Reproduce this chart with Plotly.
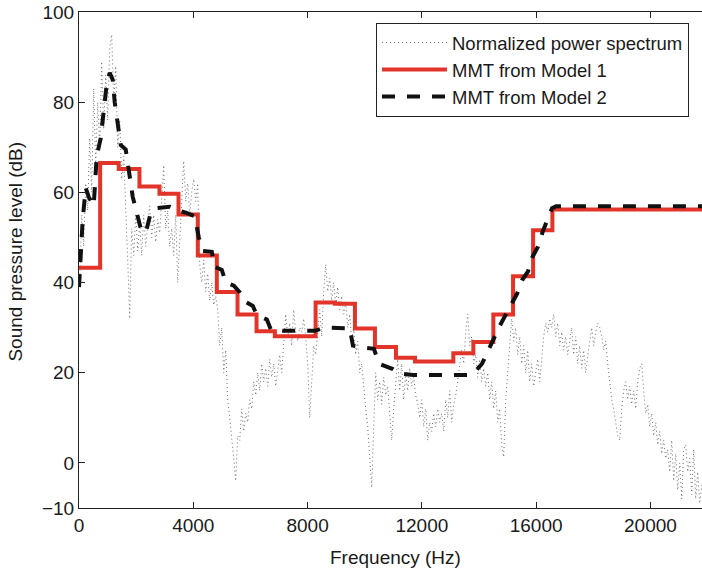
import numpy as np
import plotly.graph_objects as go

# ---------------- data ----------------
# Normalized power spectrum (dB), sampled on a uniform 70 Hz grid starting at 25 Hz
spectrum_start_hz = 25
spectrum_step_hz = 70
spectrum_db = [
    40, 55, 48, 62, 56, 72, 60, 83, 66, 80, 70, 89, 74, 86, 76, 92, 95, 80, 88, 70,
    76, 63, 68, 58, 45, 32, 52, 46, 55, 47, 53, 46, 55, 48, 52, 57, 50, 55, 49, 54,
    51, 58, 66, 52, 56, 48, 52, 46, 55, 40, 50, 57, 67, 58, 62, 55, 60, 63, 58, 62,
    44, 40, 45, 38, 42, 36, 40, 35, 37, 34, 26, 30, 20, 25, 14, 10, 6, 1, -4, 6,
    5, 12, 7, 11, 9, 14, 12, 18, 15, 20, 16, 22, 18, 21, 17, 23, 19, 22, 17, 21,
    24, 20, 26, 33, 28, 31, 26, 34, 29, 27, 30, 29, 32, 28, 22, 10, 18, 26, 24, 30,
    34, 28, 38, 44, 38, 41, 36, 40, 35, 39, 34, 37, 33, 36, 30, 33, 27, 30, 24, 27,
    20, 22, 16, 12, 8, 2, -5.5, 8, 20, 14, 18, 13, 19, 15, 17, 11, 5, 12, 18, 23,
    16, 22, 14, 20, 16, 21, 17, 19, 15, 13, 10, 14, 8, 12, 5, 9, 7, 11, 8, 12,
    9, 11, 7, 14, 10, 16, 9, 13, 15, 18, 21, 25, 22, 29, 33, 26, 28, 22, 24, 19,
    23, 18, 21, 17, 20, 14, 18, 12, 16, 9, 12, 4, 1.3, 14, 20, 26, 32, 27, 30, 24,
    28, 22, 26, 20, 25, 18, 22, 17, 20, 23, 18, 24, 28, 31, 29, 32, 30, 33, 28, 31,
    26, 29, 25, 28, 24, 27, 30, 24, 28, 22, 26, 21, 25, 20, 24, 27, 30, 26, 29, 31,
    30, 28, 25, 27, 22, 18, 14, 12, 9, 6, 5, 12, 16, 18, 14, 17, 13, 16, 12, 18,
    21, 22, 16, 11, 13, 8, 11, 6, 9, 4, 7, 2, 5, 1, 3, -2, 5, -4, 2, -6,
    0, -8, 3, 4, -2, 1, -7, 3, -8, -2, -9, -5, -3, -8,
]
spectrum_hz = spectrum_start_hz + spectrum_step_hz * np.arange(len(spectrum_db))

# MMT from Model 1: step edges (Hz) and levels (dB)
model1_hz = [0, 740, 1390, 2116, 2816, 3482, 4158, 4824, 5549, 6214, 6855,
             8281, 8957, 9658, 10358, 11094, 11759, 13101, 13802, 14502,
             15192, 15893, 16569, 22050]
model1_db = [43.3, 66.5, 65.2, 61.3, 59.7, 55.1, 46.0, 37.9, 32.9, 29.2, 28.1,
             35.6, 35.3, 29.8, 25.7, 23.3, 22.5, 24.3, 26.8, 32.9,
             41.4, 51.6, 56.2, 56.2]

# MMT from Model 2: breakpoints (Hz) and levels (dB)
model2_hz = [0, 130, 235, 340, 515, 620, 760, 865, 970, 1075, 1180, 1250, 1356,
             1461, 1636, 1741, 1881, 2021, 2161, 2336, 2511, 2722, 3177, 3457,
             3737, 4053, 4193, 4333, 4648, 4753, 4998, 5138, 5419, 5629, 5804,
             6084, 6224, 6575, 6715, 7135, 8256, 8501, 8711, 9482, 9587, 9902,
             10323, 10498, 10988, 11233, 11689, 13686, 13896, 14106, 14316,
             14561, 14736, 14946, 15121, 15331, 15506, 15717, 15857, 16067,
             16242, 16417, 16557, 16697, 22050]
model2_db = [39, 54, 61, 59, 57, 68, 72, 79, 84, 86.5, 85, 80, 75,
             70.5, 69.5, 65, 59, 55.5, 52, 51, 55.5, 56.5, 56.8, 56,
             55.5, 54.7, 50, 47, 46.8, 43.5, 42.8, 40, 39.3, 37.8, 35.8,
             34.8, 32.8, 31.8, 29.6, 29.3, 29.3, 29.8, 30, 29.8, 26, 25.6,
             25.3, 22, 20.8, 19.8, 19.5, 19.5, 20.5, 22, 25,
             28, 30.5, 33, 35, 37.5, 40.5, 42.5, 45.5, 48,
             51.5, 54, 56.5, 56.9, 56.9]

x_ticks = [0, 4000, 8000, 12000, 16000, 20000]
y_ticks = [-10, 0, 20, 40, 60, 80, 100]
x_range = [0, 22050]
y_range = [-10, 100]
x_title = "Frequency (Hz)"
y_title = "Sound pressure level (dB)"

# ---------------- figure ----------------
FONT = "Liberation Sans, Arial, Helvetica, sans-serif"
TXT = "#1a1a1a"

fig = go.Figure()
fig.add_trace(go.Scatter(
    x=spectrum_hz, y=spectrum_db, mode="lines",
    name="Normalized power spectrum",
    line=dict(color="#6e6e6e", width=1, dash="1px,3px"),
))
fig.add_trace(go.Scatter(
    x=model1_hz, y=model1_db, mode="lines", line_shape="hv",
    name="MMT from Model 1",
    line=dict(color="#e3342a", width=4),
))
fig.add_trace(go.Scatter(
    x=model2_hz, y=model2_db, mode="lines",
    name="MMT from Model 2",
    line=dict(color="#111111", width=4, dash="13px,12px"),
))

# The plot's right border lies just past the 702 px window, as in the reference.
fig.update_layout(
    width=710, height=573,
    margin=dict(l=79, r=1, t=12, b=65, autoexpand=False),
    paper_bgcolor="white", plot_bgcolor="white",
    font=dict(family=FONT, size=19, color=TXT),
    showlegend=True,
    legend=dict(
        x=0.4714, y=0.978, xanchor="left", yanchor="top",
        bgcolor="white", bordercolor="#222", borderwidth=1,
        font=dict(family=FONT, size=18.5, color=TXT),
        itemwidth=65, tracegroupgap=0,
    ),
    annotations=[
        dict(text=x_title, xref="paper", yref="paper", x=0.5016, y=-0.0988,
             xanchor="center", yanchor="middle", showarrow=False,
             font=dict(family=FONT, size=19, color=TXT)),
        dict(text=y_title, xref="paper", yref="paper", x=-0.1008, y=0.518,
             xanchor="center", yanchor="middle", showarrow=False, textangle=-90,
             font=dict(family=FONT, size=19, color=TXT)),
    ],
)
fig.update_xaxes(
    range=x_range, tickvals=x_ticks, ticktext=[str(v) for v in x_ticks],
    ticks="inside", ticklen=6, tickcolor="#222", tickwidth=1,
    showline=True, linecolor="#222", linewidth=1, mirror="ticks",
    showgrid=False, zeroline=False, automargin=False, ticklabeloverflow="allow",
    tickfont=dict(family=FONT, size=19, color=TXT),
)
fig.update_yaxes(
    range=y_range, tickvals=y_ticks,
    ticks="inside", ticklen=6, tickcolor="#222", tickwidth=1,
    showline=True, linecolor="#222", linewidth=1, mirror=False,
    showgrid=False, zeroline=False, automargin=False, ticklabeloverflow="allow",
    tickfont=dict(family=FONT, size=19, color=TXT),
)

fig.write_html(
    "out.html",
    config={"displayModeBar": False},
    post_script="document.body.style.margin='0';document.body.style.overflow='hidden';",
)
